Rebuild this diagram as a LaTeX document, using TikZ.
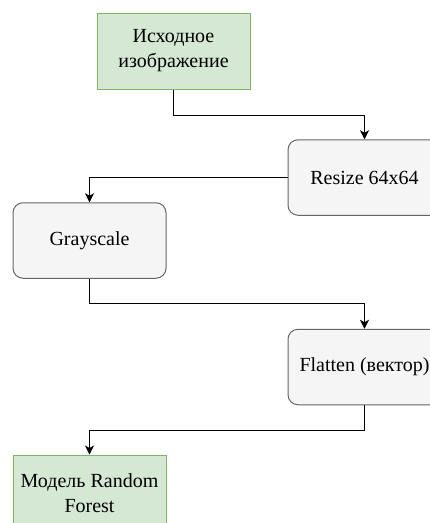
\documentclass[tikz,border=0pt]{standalone}
\usepackage{fontspec}
\setmainfont{Liberation Serif}
\usetikzlibrary{arrows.meta}
\definecolor{gfill}{HTML}{D5E8D4}
\definecolor{gdraw}{HTML}{82B366}
\definecolor{pfill}{HTML}{F5F5F5}
\definecolor{pdraw}{HTML}{666666}
\tikzset{
  greenbox/.style={draw=gdraw, fill=gfill, line width=1pt, minimum width=153pt, minimum height=76pt, align=center, font=\fontsize{20pt}{25pt}\selectfont, inner sep=0pt},
  procbox/.style={draw=pdraw, fill=pfill, line width=1pt, rounded corners=10pt, minimum width=153pt, minimum height=75.5pt, align=center, font=\fontsize{20pt}{25pt}\selectfont, inner sep=0pt},
  arr/.style={draw=black, line width=1pt, -{Stealth[length=9pt,width=9pt,inset=2.5pt]}}
}
\begin{document}
\begin{tikzpicture}[x=1pt,y=-1pt]
\useasboundingbox (0,0) rectangle (430,523);
\clip (0,0) rectangle (430,523);
\node[greenbox] (b1) at (173.5,51) {Исходное\\изображение};
\node[procbox] (b2) at (364.5,177.5) {Resize 64x64};
\node[procbox] (b3) at (89.5,240.5) {Grayscale};
\node[procbox] (b4) at (364.5,367) {Flatten (вектор)};
\node[greenbox] (b5) at (89.5,493) {Модель Random\\Forest};
\draw[arr] (b1.south) -- (b1.south |- 0,115) -| (b2.north);
\draw[arr] (b2.west) -| (b3.north);
\draw[arr] (b3.south) -- (b3.south |- 0,303) -| (b4.north);
\draw[arr] (b4.south) -- (b4.south |- 0,430) -| (b5.north);
\end{tikzpicture}
\end{document}
